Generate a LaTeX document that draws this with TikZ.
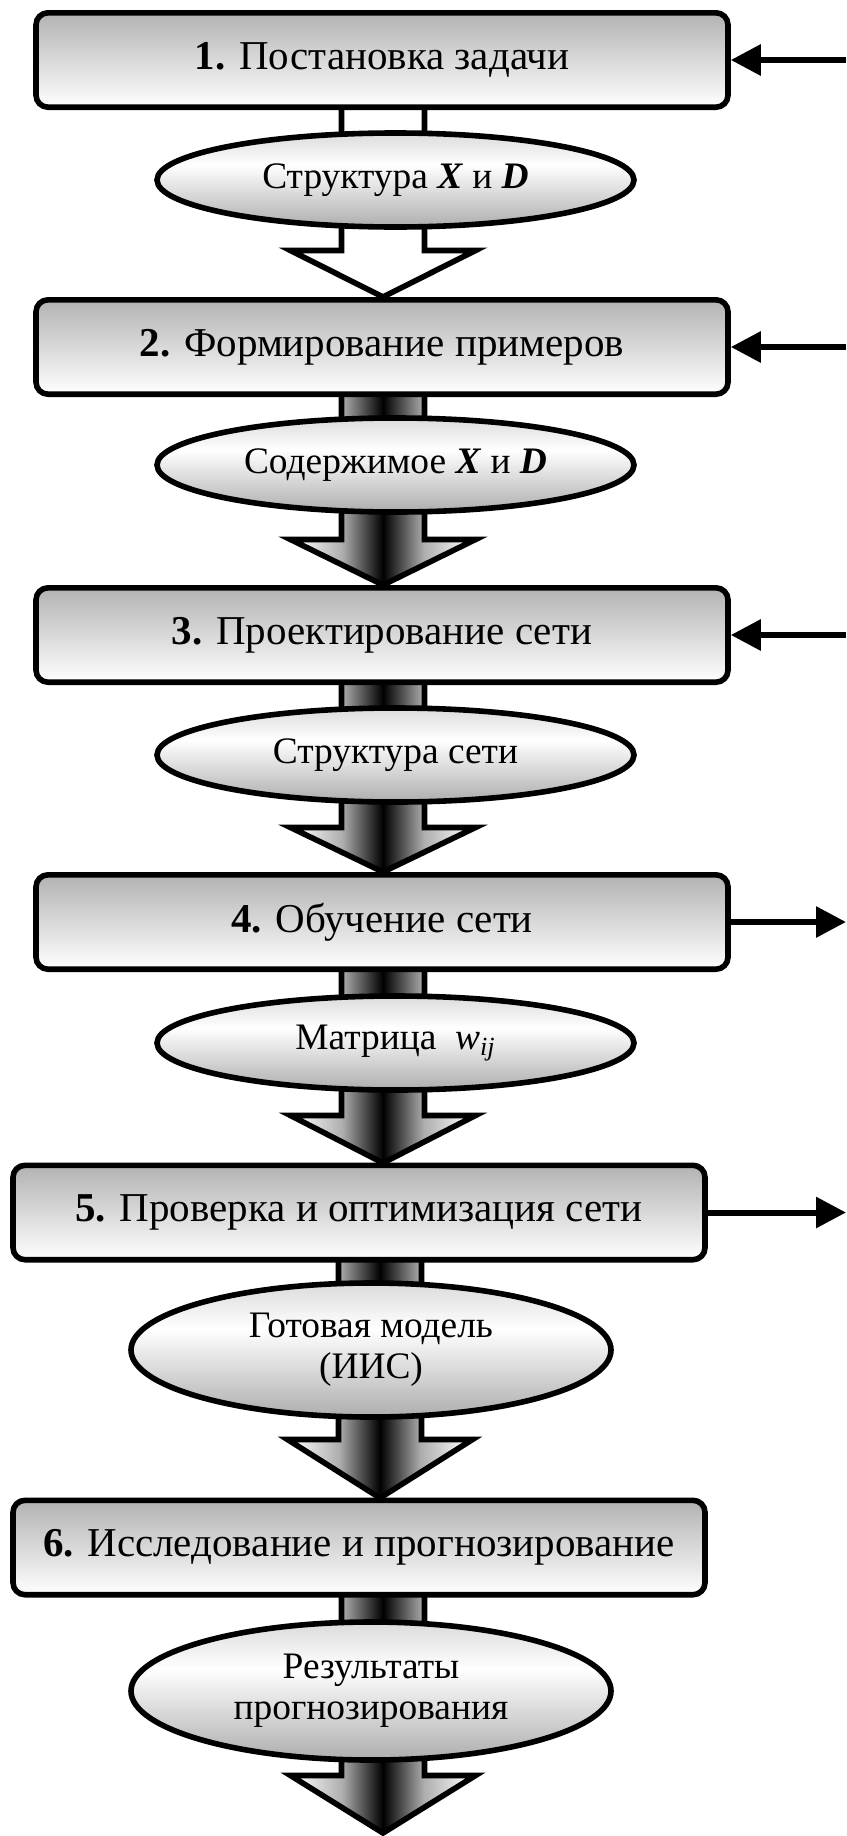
\documentclass[tikz,border=0pt]{standalone}
\usepackage{fontspec}
\setmainfont{Liberation Serif}
\usetikzlibrary{shapes.geometric,arrows.meta}
\definecolor{boxtop}{gray}{0.70}
\definecolor{ellbot}{gray}{0.68}
\definecolor{elltop}{gray}{0.86}
\definecolor{arrmid}{gray}{0.68}
\pgfdeclarehorizontalshading{arrowshade}{100bp}{color(0bp)=(white); color(26bp)=(white); color(39bp)=(arrmid); color(50bp)=(black); color(61bp)=(arrmid); color(74bp)=(white); color(100bp)=(white)}
\pgfdeclareverticalshading{ellshade}{100bp}{color(0bp)=(ellbot); color(25bp)=(ellbot); color(58bp)=(white); color(75bp)=(elltop); color(100bp)=(elltop)}
\newcommand\myBlockArrow[5]{%
  \draw[blockarrow,#5] (#1-41.5,#2) -- (#1-41.5,#3) -- (#1-92.5,#3) -- (#1,#4) -- (#1+92.5,#3) -- (#1+41.5,#3) -- (#1+41.5,#2) -- cycle;}
\tikzset{
  stepbox/.style={draw, rectangle, rounded corners=6pt, line width=2.8pt,
    top color=boxtop, bottom color=white, minimum width=346pt, minimum height=47.2pt,
    inner sep=0pt, font=\fontsize{20.5}{24}\selectfont},
  databox/.style={draw, ellipse, line width=2.8pt, shading=ellshade,
    minimum width=238.5pt, minimum height=47pt, inner sep=0pt, align=center,
    font=\fontsize{18.7}{20.5}\selectfont},
  blockarrow/.style={draw, line width=2.8pt, line join=miter},
  shadedarrow/.style={shade, shading=arrowshade},
  whitearrow/.style={fill=white},
  sidearrow/.style={line width=3pt, -{Triangle[length=15pt,width=15pt]}},
}
\begin{document}
\begin{tikzpicture}[x=0.5pt,y=-0.5pt]
\useasboundingbox (0,0) rectangle (846,1836);
% block arrows (drawn first, below boxes and ellipses)
\myBlockArrow{383}{100}{250.5}{297}{whitearrow}
\myBlockArrow{383}{390}{539.5}{585}{shadedarrow}
\myBlockArrow{383}{680}{827.5}{872}{shadedarrow}
\myBlockArrow{383}{965}{1115.5}{1163}{shadedarrow}
\myBlockArrow{380}{1255}{1439.5}{1498}{shadedarrow}
\myBlockArrow{383}{1590}{1775.5}{1833}{shadedarrow}
% boxes
\node[stepbox] (b1) at (382,60) {\textbf{1.} Постановка задачи};
\node[stepbox] (b2) at (382,347) {\textbf{2.} Формирование примеров};
\node[stepbox] (b3) at (382,635) {\textbf{3.} Проектирование сети};
\node[stepbox] (b4) at (382,922) {\textbf{4.} Обучение сети};
\node[stepbox] (b5) at (359,1212.5) {\textbf{5.} Проверка и оптимизация сети};
\node[stepbox] (b6) at (359,1547.5) {\textbf{6.} Исследование и прогнозирование};
% ellipses
\node[databox] (e1) at (395.5,180) {Структура \textbf{\textit{X}} и \textbf{\textit{D}}};
\node[databox] (e2) at (395.5,465) {Содержимое \textbf{\textit{X}} и \textbf{\textit{D}}};
\node[databox] (e3) at (395.5,755) {Структура сети};
\node[databox] (e4) at (395.5,1043) {Матрица\ \ \textit{w}\textsubscript{\textit{ij}}};
\node[databox, minimum width=240pt, minimum height=67pt] (e5) at (371,1350) {Готовая модель\\(ИИС)};
\node[databox, minimum width=240pt, minimum height=69pt] (e6) at (371,1691) {Результаты\\прогнозирования};
% side arrows
\coordinate (in1) at (846,60);
\coordinate (in2) at (846,347);
\coordinate (in3) at (846,635);
\coordinate (out4) at (846,922);
\coordinate (out5) at (846,1212.5);
\draw[sidearrow] (in1) -- (b1.east);
\draw[sidearrow] (in2) -- (b2.east);
\draw[sidearrow] (in3) -- (b3.east);
\draw[sidearrow] (b4.east) -- (out4);
\draw[sidearrow] (b5.east) -- (out5);
\end{tikzpicture}
\end{document}
